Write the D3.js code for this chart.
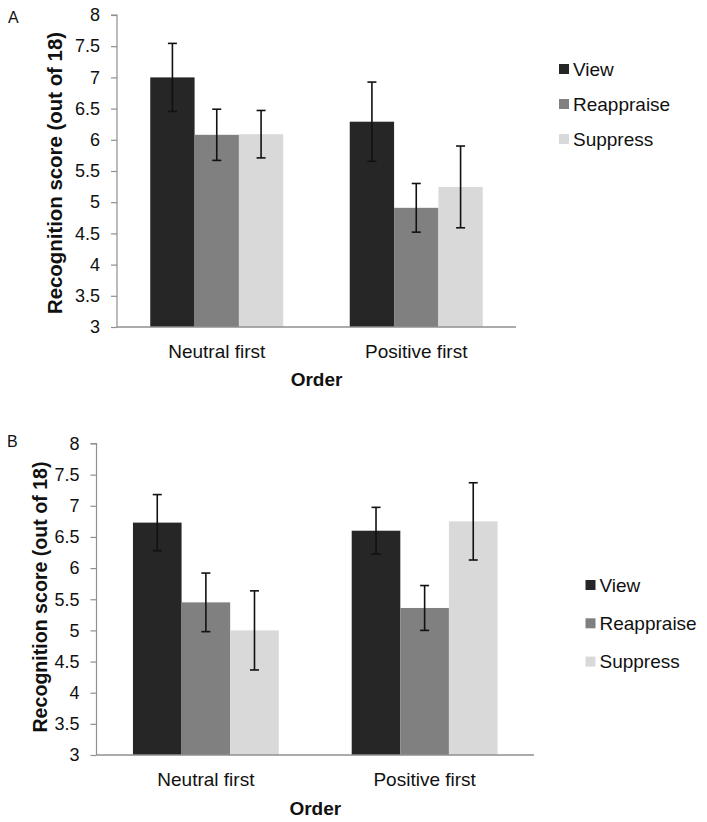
<!DOCTYPE html>
<html>
<head>
<meta charset="utf-8">
<script src="https://cdn.jsdelivr.net/npm/d3@7"></script>
<style>
  html, body { margin: 0; padding: 0; background: #fff; }
  svg { display: block; font-family: "Liberation Sans", Arial, sans-serif; }
</style>
</head>
<body>
<svg id="chart" width="707" height="822"></svg>
<script>
// ---- Data ----
const categories = ["Neutral first", "Positive first"];
const seriesNames = ["View", "Reappraise", "Suppress"];
const yTicks = [3, 3.5, 4, 4.5, 5, 5.5, 6, 6.5, 7, 7.5, 8];

// Panel A
const aView = [7.00, 6.29];
const aReappraise = [6.08, 4.91];
const aSuppress = [6.09, 5.245];
const aViewErr = [0.545, 0.635];
const aReappraiseErr = [0.41, 0.39];
const aSuppressErr = [0.38, 0.655];

// Panel B
const bView = [6.73, 6.60];
const bReappraise = [5.45, 5.36];
const bSuppress = [5.00, 6.75];
const bViewErr = [0.45, 0.375];
const bReappraiseErr = [0.47, 0.36];
const bSuppressErr = [0.635, 0.62];

const xTitle = "Order";
const yTitle = "Recognition score (out of 18)";

// ---- Styles ----
const colors = { View: "#262626", Reappraise: "#808080", Suppress: "#d9d9d9" };
const axisColor = "#8f8f8f";

const svg = d3.select("#chart");

function drawPanel(cfg) {
  const g = svg.append("g");
  const x0 = d3.scaleBand().domain(categories)
    .range([cfg.left, cfg.right]).paddingInner(1/3).paddingOuter(1/6);
  const x1 = d3.scaleBand().domain(seriesNames).range([0, x0.bandwidth()]);
  const y = d3.scaleLinear().domain([3, 8]).range([cfg.bottom, cfg.top]);

  const rows = [];
  categories.forEach((c, i) => {
    seriesNames.forEach((s, j) => {
      rows.push({ cat: c, series: s, value: cfg.values[j][i], err: cfg.errs[j][i] });
    });
  });

  // bars
  g.selectAll("rect.bar").data(rows).enter().append("rect")
    .attr("class", "bar")
    .attr("x", d => x0(d.cat) + x1(d.series))
    .attr("width", x1.bandwidth())
    .attr("y", d => y(d.value))
    .attr("height", d => y(3) - y(d.value))
    .attr("fill", d => colors[d.series]);

  // y axis
  const yAxis = d3.axisLeft(y).tickValues(yTicks).tickSize(6).tickPadding(11)
    .tickFormat(d3.format("~g"));
  const ya = g.append("g").attr("transform", `translate(${cfg.left},0)`).call(yAxis);
  ya.select(".domain").attr("stroke", axisColor).attr("stroke-width", 1.2)
    .attr("d", `M-6,${y(8)}H0V${y(3)}`);
  ya.selectAll(".tick line").attr("stroke", axisColor).attr("stroke-width", 1.2);
  ya.selectAll(".tick text").attr("font-size", 18).attr("fill", "#111")
    .attr("font-family", "Liberation Sans, Arial, sans-serif");

  // x axis baseline
  const xa = g.append("g").attr("transform", `translate(0,${y(3)})`)
    .call(d3.axisBottom(x0).tickSize(0).tickPadding(0));
  xa.select(".domain").attr("stroke", axisColor).attr("stroke-width", 1.5)
    .attr("d", `M${cfg.left},0H${cfg.right}`);
  xa.selectAll(".tick text").attr("font-size", 19).attr("fill", "#111")
    .attr("font-family", "Liberation Sans, Arial, sans-serif")
    .attr("dy", null).attr("y", cfg.catBaseline - y(3));

  // error bars
  const eb = g.selectAll("g.err").data(rows).enter().append("g").attr("class", "err");
  const cx = d => x0(d.cat) + x1(d.series) + x1.bandwidth() / 2;
  eb.append("line")
    .attr("x1", cx).attr("x2", cx)
    .attr("y1", d => y(d.value + d.err)).attr("y2", d => y(d.value - d.err))
    .attr("stroke", "#111").attr("stroke-width", 1.6);
  [1, -1].forEach(sgn => {
    eb.append("line")
      .attr("x1", d => cx(d) - 4.5).attr("x2", d => cx(d) + 4.5)
      .attr("y1", d => y(d.value + sgn * d.err)).attr("y2", d => y(d.value + sgn * d.err))
      .attr("stroke", "#111").attr("stroke-width", 1.6);
  });

  // axis titles
  g.append("text")
    .attr("x", (cfg.left + cfg.right) / 2).attr("y", cfg.titleBaseline)
    .attr("text-anchor", "middle").attr("font-size", 19).attr("font-weight", "bold")
    .attr("fill", "#111").text(xTitle);
  g.append("text")
    .attr("transform", `translate(${cfg.yTitleX},${cfg.yTitleY}) rotate(-90)`)
    .attr("text-anchor", "middle").attr("font-size", cfg.yTitleSize).attr("font-weight", "bold")
    .attr("fill", "#111").text(yTitle);

  // panel letter
  g.append("text").attr("x", cfg.letterX).attr("y", cfg.letterY)
    .attr("font-size", 16).attr("fill", "#111").text(cfg.letter);

  // legend
  const lg = g.append("g").selectAll("g").data(seriesNames).enter().append("g")
    .attr("transform", (d, i) => `translate(${cfg.legX},${cfg.legY + i * cfg.legStep})`);
  lg.append("rect").attr("x", 0).attr("y", -5).attr("width", 10).attr("height", 10)
    .attr("fill", d => colors[d]);
  lg.append("text").attr("x", 14).attr("y", 0).attr("dy", "0.35em")
    .attr("font-size", 19).attr("fill", "#111").text(d => d);
}

drawPanel({
  letter: "A", letterX: 8, letterY: 23,
  left: 117, right: 516, top: 15, bottom: 327,
  values: [aView, aReappraise, aSuppress],
  errs: [aViewErr, aReappraiseErr, aSuppressErr],
  catBaseline: 358, titleBaseline: 386,
  yTitleX: 62, yTitleY: 173, yTitleSize: 20.4,
  legX: 559, legY: 69, legStep: 35
});

drawPanel({
  letter: "B", letterX: 7, letterY: 447,
  left: 96.5, right: 534, top: 443.5, bottom: 755,
  values: [bView, bReappraise, bSuppress],
  errs: [bViewErr, bReappraiseErr, bSuppressErr],
  catBaseline: 786, titleBaseline: 815,
  yTitleX: 47, yTitleY: 597, yTitleSize: 19.6,
  legX: 585.5, legY: 585, legStep: 38.3
});
</script>
</body>
</html>
